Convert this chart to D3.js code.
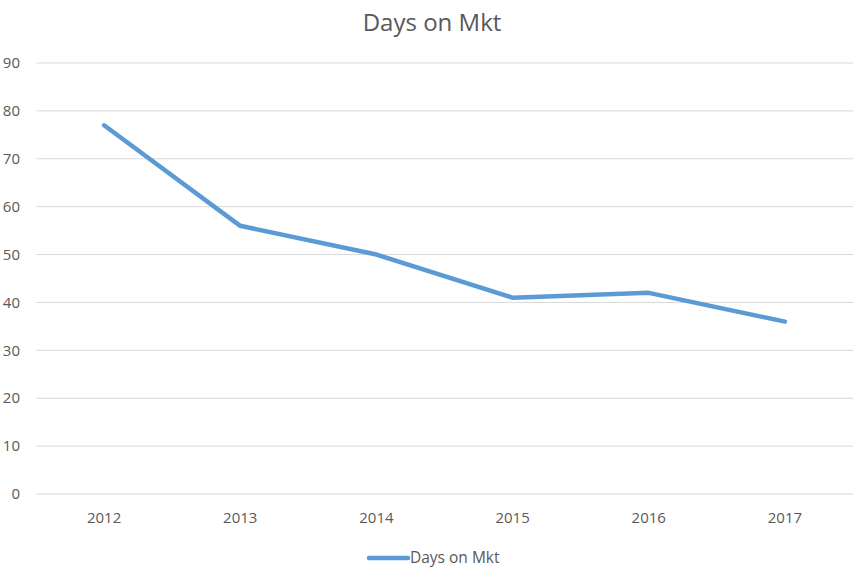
<!DOCTYPE html>
<html>
<head>
<meta charset="utf-8">
<script src="https://cdn.jsdelivr.net/npm/d3@7"></script>
<style>
  body { margin: 0; background: #fff; }
  text { font-family: "Open Sans", sans-serif; fill: #595959; }
</style>
</head>
<body>
<div id="chart"></div>
<script>
const years = ["2012", "2013", "2014", "2015", "2016", "2017"];
const daysOnMkt = [77, 56, 50, 41, 42, 36];
const yTicks = [0, 10, 20, 30, 40, 50, 60, 70, 80, 90];
const seriesName = "Days on Mkt";

const width = 867, height = 575;
const plotLeft = 36, plotRight = 853, plotTop = 63, plotBottom = 494;

const svg = d3.select("#chart").append("svg")
    .attr("width", width)
    .attr("height", height);

const x = d3.scaleBand()
    .domain(years)
    .range([plotLeft, plotRight]);

const y = d3.scaleLinear()
    .domain([0, 90])
    .range([plotBottom, plotTop]);

// gridlines
svg.append("g")
    .selectAll("line")
    .data(yTicks)
    .join("line")
    .attr("x1", plotLeft)
    .attr("x2", plotRight)
    .attr("y1", d => y(d))
    .attr("y2", d => y(d))
    .attr("stroke", "#d9d9d9")
    .attr("stroke-width", 1);

// y labels
svg.append("g")
    .selectAll("text")
    .data(yTicks)
    .join("text")
    .attr("x", 20)
    .attr("y", d => y(d))
    .attr("dy", "0.35em")
    .attr("text-anchor", "end")
    .style("font-size", "15px")
    .text(d => d);

// x labels
svg.append("g")
    .selectAll("text")
    .data(years)
    .join("text")
    .attr("x", d => x(d) + x.bandwidth() / 2)
    .attr("y", 518)
    .attr("dy", "0.35em")
    .attr("text-anchor", "middle")
    .style("font-size", "15px")
    .text(d => d);

const line = d3.line()
    .x((d, i) => x(years[i]) + x.bandwidth() / 2)
    .y(d => y(d));

svg.append("path")
    .datum(daysOnMkt)
    .attr("d", line)
    .attr("fill", "none")
    .attr("stroke", "#5b9bd5")
    .attr("stroke-width", 4.5)
    .attr("stroke-linejoin", "round")
    .attr("stroke-linecap", "round");

// title
svg.append("text")
    .attr("x", 432)
    .attr("y", 23)
    .attr("dy", "0.35em")
    .attr("text-anchor", "middle")
    .style("font-size", "24px")
    .text(seriesName);

// legend
const legend = svg.append("g");
legend.append("line")
    .attr("x1", 369)
    .attr("x2", 408)
    .attr("y1", 558)
    .attr("y2", 558)
    .attr("stroke", "#5b9bd5")
    .attr("stroke-width", 4.5)
    .attr("stroke-linecap", "round");
legend.append("text")
    .attr("x", 410)
    .attr("y", 558)
    .attr("dy", "0.35em")
    .style("font-size", "15.5px")
    .text(seriesName);
</script>
</body>
</html>
